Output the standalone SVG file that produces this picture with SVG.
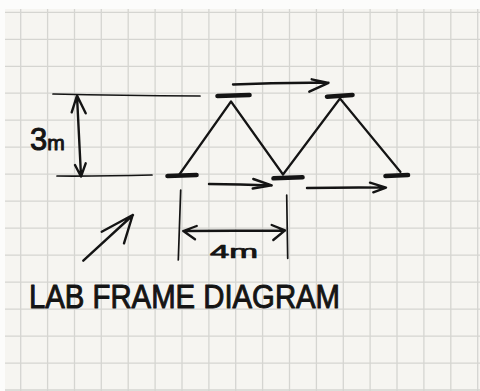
<svg xmlns="http://www.w3.org/2000/svg" width="480" height="391" viewBox="0 0 480 391">
<style>
.grid{stroke:#d5d5d1;stroke-width:1.3;fill:none}
.ink{stroke:#141414;fill:none;stroke-linecap:round;stroke-linejoin:round}
.leg{stroke-width:2.2}
.arr{stroke-width:2.4}
.thin{stroke-width:1.7}
.bar{stroke:#141414;stroke-width:4.6;stroke-linecap:round;fill:none}
.hand{font-family:"Liberation Sans","DejaVu Sans",sans-serif;fill:#141414;stroke:#141414;stroke-width:1;stroke-linejoin:round}
</style>
<rect x="0" y="0" width="480" height="391" fill="#fcfcfb"/>
<rect x="5" y="9" width="475" height="382" fill="#f6f5f1"/>
<g id="grid" class="grid">
<path d="M20.7,9V391M47.6,9V391M74.5,9V391M101.3,9V391M128.2,9V391M155.1,9V391M182,9V391M208.9,9V391M235.7,9V391M262.6,9V391M289.5,9V391M316.4,9V391M343.3,9V391M370.1,9V391M397,9V391M423.9,9V391M450.8,9V391M477.7,9V391"/>
<path d="M5,12.3H480M5,39.3H480M5,66.3H480M5,93.2H480M5,120.2H480M5,147.2H480M5,174.2H480M5,201.2H480M5,228.1H480M5,255.1H480M5,282.1H480M5,309.1H480M5,336.1H480M5,363.1H480M5,390H480"/>
</g>
<g id="connectors" class="ink">
<path class="leg" d="M179,175 L231,101.5 L283,174.5 L340,98.5 L400.5,172"/>
<path class="arr" d="M233,84.5 Q280,82.3 328.5,82.8 M311.7,79.3 L328.5,82.8 L309.3,91.7"/>
<path class="arr" d="M209,184 Q240,184.3 271.7,185.5 M253.3,179 L271.7,185.4 L252.7,188.5"/>
<path class="arr" d="M307,188 Q345,187.2 386,187.6 M370,182.7 L386,187.6 L373.3,192.3"/>
</g>
<g id="dimensions" class="ink">
<path class="thin" d="M53,94 Q120,95.6 200,96"/>
<path class="thin" d="M57,176 Q100,176.3 152,175"/>
<path class="arr" d="M77,96 L81,176 M71.7,112.3 L77,95.5 L85.7,113.3 M75,165 L81,176.5 L85.7,163.3"/>
<path class="thin" d="M180.7,190 L178.3,260 M286.7,195 L287.7,258.3"/>
<path class="arr" d="M183.3,231 L285,230.5 M196.7,226 L183.3,231 L195,239.3 M271.7,225 L285,230.3 L273.3,240"/>
<path class="arr" d="M83.3,260.7 L133,215 M101.7,231.7 L132.7,215 L124,243.3"/>
</g>
<g id="node-bottom-left"><path class="bar" d="M167.5,176 L196.5,175"/></g>
<g id="node-top-left"><path class="bar" d="M217.5,96 L249.5,95"/></g>
<g id="node-bottom-middle"><path class="bar" d="M273.5,178.3 L302.5,177.3"/></g>
<g id="node-top-right"><path class="bar" d="M327,96.7 L352.5,95"/></g>
<g id="node-bottom-right"><path class="bar" d="M385.5,176 L408,175"/></g>
<g id="labels">
<text class="hand" x="30" y="150"><tspan font-size="31">3</tspan><tspan font-size="21">m</tspan></text>
<text class="hand" x="210" y="258" font-size="18" textLength="48" lengthAdjust="spacingAndGlyphs" style="stroke-width:0.7">4m</text>
<text class="hand" x="29" y="308" font-size="34" textLength="311" lengthAdjust="spacingAndGlyphs">LAB FRAME DIAGRAM</text>
</g>
</svg>
